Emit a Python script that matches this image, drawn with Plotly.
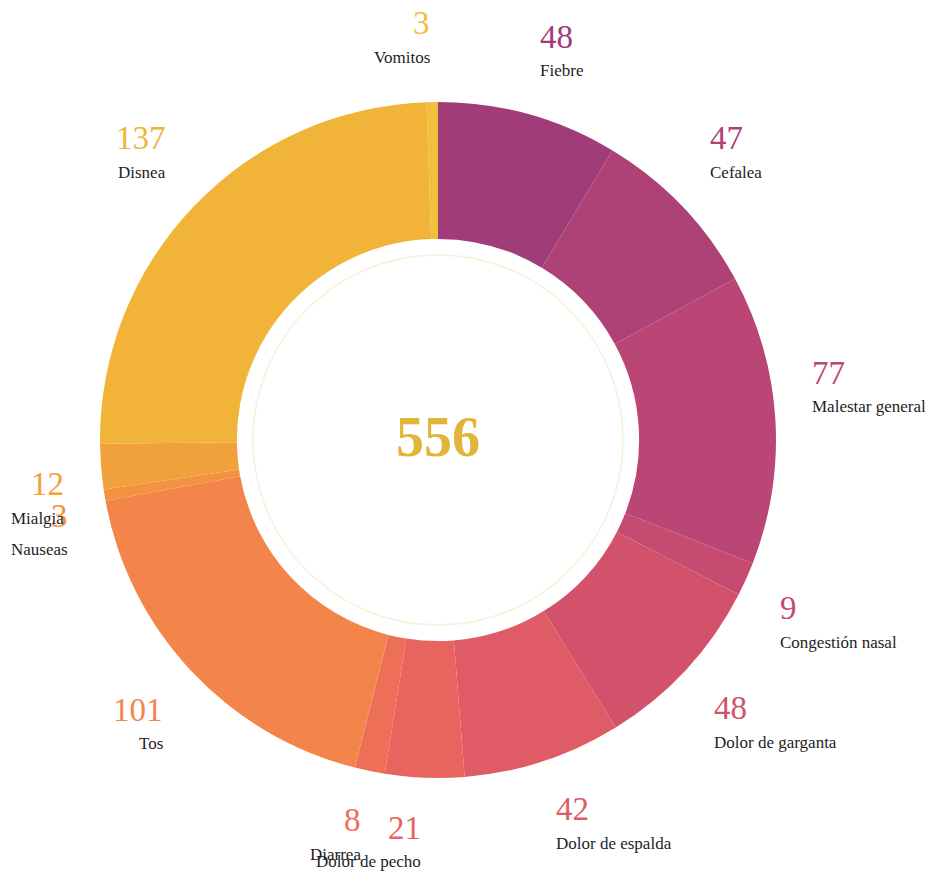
import math
import plotly.graph_objects as go

# Symptom counts, listed clockwise from 12 o'clock
sintomas = [
    "Fiebre", "Cefalea", "Malestar general", "Congestión nasal",
    "Dolor de garganta", "Dolor de espalda", "Dolor de pecho", "Diarrea",
    "Tos", "Nauseas", "Mialgia", "Disnea", "Vomitos",
]
casos = [48, 47, 77, 9, 48, 42, 21, 8, 101, 3, 12, 137, 3]
colores = [
    "#a03d79", "#ae4277", "#b94675", "#c64b70", "#d3526b", "#df5b65",
    "#e8645e", "#ee6f57", "#f3854b", "#f39342", "#f1a13c", "#f1b439", "#efc03a",
]

W, H = 928, 876
CX, CY = 438, 440          # donut centre in page pixels
R_OUT = 338                # outer radius in pixels
HOLE = 0.595
R_LABEL = 373              # distance of label anchors from the centre
GAP = 34                   # vertical distance between value and name
SERIF = "Liberation Serif, Times New Roman, serif"


def px_to_paper(x, y):
    return x / W, (H - y) / H


x0, y0 = px_to_paper(CX - R_OUT, CY + R_OUT)
x1, y1 = px_to_paper(CX + R_OUT, CY - R_OUT)

fig = go.Figure(go.Pie(
    labels=sintomas,
    values=casos,
    hole=HOLE,
    sort=False,
    direction="clockwise",
    rotation=0,
    marker=dict(colors=colores, line=dict(width=0)),
    textinfo="none",
    hoverinfo="label+value",
    showlegend=False,
    domain=dict(x=[x0, x1], y=[y0, y1]),
))

# Outside labels: value on top of the symptom name, anchored on the slice mid-angle
total = sum(casos)
acum = 0
for nombre, valor, color in zip(sintomas, casos, colores):
    medio = (acum + valor / 2) / total * 2 * math.pi
    acum += valor
    px = CX + R_LABEL * math.sin(medio)
    py = CY - R_LABEL * math.cos(medio)
    xanchor = "left" if math.sin(medio) >= 0 else "right"
    if py < CY:
        y_nom = py - 10
        y_num = y_nom - GAP
    else:
        y_num = py + 15
        y_nom = y_num + GAP
    ax, ay = px_to_paper(px, y_num)
    fig.add_annotation(
        x=ax, y=ay, xref="paper", yref="paper", text=str(valor),
        showarrow=False, xanchor=xanchor, yanchor="middle",
        font=dict(family=SERIF, size=33, color=color),
    )
    ax, ay = px_to_paper(px, y_nom)
    fig.add_annotation(
        x=ax, y=ay, xref="paper", yref="paper", text=nombre,
        showarrow=False, xanchor=xanchor, yanchor="middle",
        font=dict(family=SERIF, size=17, color="#1e1e1e"),
    )

# Total in the middle of the ring
tx, ty = px_to_paper(CX, CY - 3)
fig.add_annotation(
    x=tx, y=ty, xref="paper", yref="paper", text=f"<b>{total}</b>",
    showarrow=False, xanchor="center", yanchor="middle",
    font=dict(family=SERIF, size=56, color="#e2b43a"),
)

# Faint guide circle inside the hole
R_GUIA = 185
gx0, gy0 = px_to_paper(CX - R_GUIA, CY + R_GUIA)
gx1, gy1 = px_to_paper(CX + R_GUIA, CY - R_GUIA)
fig.add_shape(
    type="circle", xref="paper", yref="paper",
    x0=gx0, y0=gy0, x1=gx1, y1=gy1,
    line=dict(color="rgba(242,180,80,0.22)", width=1.5),
)

fig.update_layout(
    width=W, height=H,
    margin=dict(l=0, r=0, t=0, b=0),
    paper_bgcolor="white",
    plot_bgcolor="white",
)

fig.write_html("out.html")
